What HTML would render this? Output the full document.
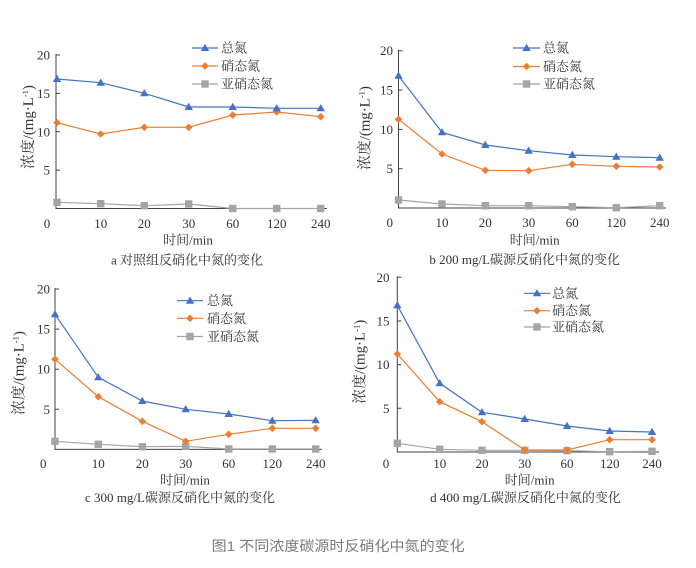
<!DOCTYPE html>
<html><head><meta charset="utf-8">
<style>
html,body{margin:0;padding:0;background:#fff;}
svg{display:block;}
text{font-family:"Liberation Serif","Noto Serif CJK SC",serif;fill:#333;font-size:13px;}
.yt{font-size:14.5px;}
.cap{font-family:"Liberation Sans","Noto Sans CJK SC",sans-serif;fill:#7a7a7a;font-size:14px;}
</style></head><body>
<svg width="696" height="568" viewBox="0 0 696 568" xmlns="http://www.w3.org/2000/svg">
<defs>
<path id="tri" d="M0,-4.2 L4.2,3 L-4.2,3Z" fill="#4472C4"/>
<path id="dia" d="M0,-3.8 L3.8,0 L0,3.8 L-3.8,0Z" fill="#ED7D31"/>
<rect id="sq" x="-3.7" y="-3.7" width="7.4" height="7.4" fill="#A5A5A5"/>
</defs>

<!-- ================= Chart a ================= -->
<g>
<g stroke="#404040" stroke-width="1" fill="none">
<path d="M56,54 V208.5 H327"/>
<path d="M56,55 h4 M56,93.4 h4 M56,131.8 h4 M56,170.1 h4"/>
</g>
<g text-anchor="end">
<text x="50" y="59.5">20</text><text x="50" y="97.9">15</text><text x="50" y="136.3">10</text><text x="50" y="174.6">5</text>
</g>
<g text-anchor="middle">
<text x="47" y="227.8">0</text><text x="100.7" y="227.8">10</text><text x="144.3" y="227.8">20</text><text x="188.7" y="227.8">30</text><text x="232.7" y="227.8">60</text><text x="276.7" y="227.8">120</text><text x="320.7" y="227.8">240</text>
<text x="188" y="244.5">时间/min</text>
<text x="187" y="264.5">a 对照组反硝化中氮的变化</text>
<text class="yt" x="28" y="132" transform="rotate(-90 28 127)" textLength="84" lengthAdjust="spacingAndGlyphs">浓度/(mg·L<tspan font-size="8.5" dy="-5">-1</tspan><tspan dy="5">)</tspan></text>
</g>
<polyline fill="none" stroke="#A5A5A5" stroke-width="1.2" points="57,202.3 100.7,203.7 144.3,205.7 188.7,204 232.7,208.5 276.7,208.5 320.7,208.5"/>
<polyline fill="none" stroke="#ED7D31" stroke-width="1.2" points="57,122.7 100.7,134 144.3,127.3 188.7,127.3 232.7,115 276.7,112 320.7,116.7"/>
<polyline fill="none" stroke="#4472C4" stroke-width="1.2" points="57,79 100.7,82.7 144.3,93.3 188.7,107 232.7,107 276.7,108.3 320.7,108.3"/>
<use href="#sq" x="57" y="202.3"/><use href="#sq" x="100.7" y="203.7"/><use href="#sq" x="144.3" y="205.7"/><use href="#sq" x="188.7" y="204"/><use href="#sq" x="232.7" y="208.5"/><use href="#sq" x="276.7" y="208.5"/><use href="#sq" x="320.7" y="208.5"/>
<use href="#dia" x="57" y="122.7"/><use href="#dia" x="100.7" y="134"/><use href="#dia" x="144.3" y="127.3"/><use href="#dia" x="188.7" y="127.3"/><use href="#dia" x="232.7" y="115"/><use href="#dia" x="276.7" y="112"/><use href="#dia" x="320.7" y="116.7"/>
<use href="#tri" x="57" y="79"/><use href="#tri" x="100.7" y="82.7"/><use href="#tri" x="144.3" y="93.3"/><use href="#tri" x="188.7" y="107"/><use href="#tri" x="232.7" y="107"/><use href="#tri" x="276.7" y="108.3"/><use href="#tri" x="320.7" y="108.3"/>
<line x1="192" y1="48" x2="218" y2="48" stroke="#4472C4" stroke-width="1.2"/><use href="#tri" x="205" y="48"/>
<line x1="192" y1="66" x2="218" y2="66" stroke="#ED7D31" stroke-width="1.2"/><use href="#dia" x="205" y="66"/>
<line x1="192" y1="84" x2="218" y2="84" stroke="#A5A5A5" stroke-width="1.2"/><use href="#sq" x="205" y="84"/>
<text x="221" y="52.5">总氮</text><text x="221" y="70.5">硝态氮</text><text x="221" y="88.5">亚硝态氮</text>
</g>

<!-- ================= Chart b ================= -->
<g>
<g stroke="#404040" stroke-width="1" fill="none">
<path d="M398.5,49.7 V208 H666"/>
<path d="M398.5,50.7 h4 M398.5,90 h4 M398.5,129.4 h4 M398.5,168.7 h4"/>
</g>
<g text-anchor="end">
<text x="393" y="55.2">20</text><text x="393" y="94.5">15</text><text x="393" y="133.9">10</text><text x="393" y="173.2">5</text>
</g>
<g text-anchor="middle">
<text x="389.7" y="227.2">0</text><text x="442" y="227.2">10</text><text x="485.3" y="227.2">20</text><text x="528.7" y="227.2">30</text><text x="572.3" y="227.2">60</text><text x="616.3" y="227.2">120</text><text x="659.7" y="227.2">240</text>
<text x="534.7" y="244.5">时间/min</text>
<text x="524.7" y="264">b 200 mg/L碳源反硝化中氮的变化</text>
<text class="yt" x="364.7" y="133" transform="rotate(-90 364.7 128)" textLength="84" lengthAdjust="spacingAndGlyphs">浓度/(mg·L<tspan font-size="8.5" dy="-5">-1</tspan><tspan dy="5">)</tspan></text>
</g>
<polyline fill="none" stroke="#A5A5A5" stroke-width="1.2" points="398.5,200 442,204 485.3,205.7 528.7,205.7 572.3,206.7 616.3,207.7 659.7,205.7"/>
<polyline fill="none" stroke="#ED7D31" stroke-width="1.2" points="398.5,119.3 442,154 485.3,170.3 528.7,170.7 572.3,164.3 616.3,166.3 659.7,167"/>
<polyline fill="none" stroke="#4472C4" stroke-width="1.2" points="398.5,75.7 442,132.3 485.3,145 528.7,150.7 572.3,155 616.3,156.7 659.7,157.7"/>
<use href="#sq" x="398.5" y="200"/><use href="#sq" x="442" y="204"/><use href="#sq" x="485.3" y="205.7"/><use href="#sq" x="528.7" y="205.7"/><use href="#sq" x="572.3" y="206.7"/><use href="#sq" x="616.3" y="207.7"/><use href="#sq" x="659.7" y="205.7"/>
<use href="#dia" x="398.5" y="119.3"/><use href="#dia" x="442" y="154"/><use href="#dia" x="485.3" y="170.3"/><use href="#dia" x="528.7" y="170.7"/><use href="#dia" x="572.3" y="164.3"/><use href="#dia" x="616.3" y="166.3"/><use href="#dia" x="659.7" y="167"/>
<use href="#tri" x="398.5" y="75.7"/><use href="#tri" x="442" y="132.3"/><use href="#tri" x="485.3" y="145"/><use href="#tri" x="528.7" y="150.7"/><use href="#tri" x="572.3" y="155"/><use href="#tri" x="616.3" y="156.7"/><use href="#tri" x="659.7" y="157.7"/>
<line x1="513" y1="48" x2="540" y2="48" stroke="#4472C4" stroke-width="1.2"/><use href="#tri" x="526.5" y="48"/>
<line x1="513" y1="66.5" x2="540" y2="66.5" stroke="#ED7D31" stroke-width="1.2"/><use href="#dia" x="526.5" y="66.5"/>
<line x1="513" y1="84" x2="540" y2="84" stroke="#A5A5A5" stroke-width="1.2"/><use href="#sq" x="526.5" y="84"/>
<text x="543" y="52.5">总氮</text><text x="543" y="71">硝态氮</text><text x="543" y="88.5">亚硝态氮</text>
</g>

<!-- ================= Chart c ================= -->
<g>
<g stroke="#404040" stroke-width="1" fill="none">
<path d="M55,288 V449.4 H322"/>
<path d="M55,289 h4 M55,329.1 h4 M55,369.2 h4 M55,409.3 h4"/>
</g>
<g text-anchor="end">
<text x="50" y="293.5">20</text><text x="50" y="333.6">15</text><text x="50" y="373.7">10</text><text x="50" y="413.8">5</text>
</g>
<g text-anchor="middle">
<text x="43.3" y="467.8">0</text><text x="98.3" y="467.8">10</text><text x="142.3" y="467.8">20</text><text x="185.7" y="467.8">30</text><text x="228.7" y="467.8">60</text><text x="272.3" y="467.8">120</text><text x="315.7" y="467.8">240</text>
<text x="185" y="484.5">时间/min</text>
<text x="180" y="502">c 300 mg/L碳源反硝化中氮的变化</text>
<text class="yt" x="18.3" y="378" transform="rotate(-90 18.3 373)" textLength="84" lengthAdjust="spacingAndGlyphs">浓度/(mg·L<tspan font-size="8.5" dy="-5">-1</tspan><tspan dy="5">)</tspan></text>
</g>
<polyline fill="none" stroke="#A5A5A5" stroke-width="1.2" points="55,441.3 98.3,444.3 142.3,446.7 185.7,446.3 228.7,449 272.3,449 315.7,449"/>
<polyline fill="none" stroke="#ED7D31" stroke-width="1.2" points="55,359.3 98.3,396.7 142.3,421.3 185.7,441.3 228.7,434.3 272.3,428.3 315.7,428.3"/>
<polyline fill="none" stroke="#4472C4" stroke-width="1.2" points="55,314.3 98.3,377.3 142.3,401 185.7,409.3 228.7,414 272.3,420.7 315.7,420.3"/>
<use href="#sq" x="55" y="441.3"/><use href="#sq" x="98.3" y="444.3"/><use href="#sq" x="142.3" y="446.7"/><use href="#sq" x="185.7" y="446.3"/><use href="#sq" x="228.7" y="449"/><use href="#sq" x="272.3" y="449"/><use href="#sq" x="315.7" y="449"/>
<use href="#dia" x="55" y="359.3"/><use href="#dia" x="98.3" y="396.7"/><use href="#dia" x="142.3" y="421.3"/><use href="#dia" x="185.7" y="441.3"/><use href="#dia" x="228.7" y="434.3"/><use href="#dia" x="272.3" y="428.3"/><use href="#dia" x="315.7" y="428.3"/>
<use href="#tri" x="55" y="314.3"/><use href="#tri" x="98.3" y="377.3"/><use href="#tri" x="142.3" y="401"/><use href="#tri" x="185.7" y="409.3"/><use href="#tri" x="228.7" y="414"/><use href="#tri" x="272.3" y="420.7"/><use href="#tri" x="315.7" y="420.3"/>
<line x1="177" y1="300.7" x2="203" y2="300.7" stroke="#4472C4" stroke-width="1.2"/><use href="#tri" x="190" y="300.7"/>
<line x1="177" y1="318.3" x2="203" y2="318.3" stroke="#ED7D31" stroke-width="1.2"/><use href="#dia" x="190" y="318.3"/>
<line x1="177" y1="336.5" x2="203" y2="336.5" stroke="#A5A5A5" stroke-width="1.2"/><use href="#sq" x="190" y="336.5"/>
<text x="207" y="305.2">总氮</text><text x="207" y="322.8">硝态氮</text><text x="207" y="341">亚硝态氮</text>
</g>

<!-- ================= Chart d ================= -->
<g>
<g stroke="#404040" stroke-width="1" fill="none">
<path d="M397.3,276.3 V452 H659"/>
<path d="M397.3,277.3 h4 M397.3,321 h4 M397.3,364.7 h4 M397.3,408.3 h4"/>
</g>
<g text-anchor="end">
<text x="389.5" y="281.8">20</text><text x="389.5" y="325.5">15</text><text x="389.5" y="369.2">10</text><text x="389.5" y="412.8">5</text>
</g>
<g text-anchor="middle">
<text x="386" y="467.8">0</text><text x="439.7" y="467.8">10</text><text x="482" y="467.8">20</text><text x="524.7" y="467.8">30</text><text x="567" y="467.8">60</text><text x="609.7" y="467.8">120</text><text x="652" y="467.8">240</text>
<text x="529.7" y="484.5">时间/min</text>
<text x="525.5" y="502">d 400 mg/L碳源反硝化中氮的变化</text>
<text class="yt" x="359.7" y="366.7" transform="rotate(-90 359.7 361.7)" textLength="84" lengthAdjust="spacingAndGlyphs">浓度/(mg·L<tspan font-size="8.5" dy="-5">-1</tspan><tspan dy="5">)</tspan></text>
</g>
<polyline fill="none" stroke="#A5A5A5" stroke-width="1.2" points="397.3,443.3 439.7,449.3 482,450.3 524.7,450.3 567,450.7 609.7,451.7 652,451.3"/>
<polyline fill="none" stroke="#ED7D31" stroke-width="1.2" points="397.3,354 439.7,401.7 482,421.7 524.7,450 567,450 609.7,439.7 652,439.7"/>
<polyline fill="none" stroke="#4472C4" stroke-width="1.2" points="397.3,305.3 439.7,383.3 482,412.3 524.7,419 567,426 609.7,431 652,432"/>
<use href="#sq" x="397.3" y="443.3"/><use href="#sq" x="439.7" y="449.3"/><use href="#sq" x="482" y="450.3"/><use href="#sq" x="524.7" y="450.3"/><use href="#sq" x="567" y="450.7"/><use href="#sq" x="609.7" y="451.7"/><use href="#sq" x="652" y="451.3"/>
<use href="#dia" x="397.3" y="354"/><use href="#dia" x="439.7" y="401.7"/><use href="#dia" x="482" y="421.7"/><use href="#dia" x="524.7" y="450"/><use href="#dia" x="567" y="450"/><use href="#dia" x="609.7" y="439.7"/><use href="#dia" x="652" y="439.7"/>
<use href="#tri" x="397.3" y="305.3"/><use href="#tri" x="439.7" y="383.3"/><use href="#tri" x="482" y="412.3"/><use href="#tri" x="524.7" y="419"/><use href="#tri" x="567" y="426"/><use href="#tri" x="609.7" y="431"/><use href="#tri" x="652" y="432"/>
<line x1="524" y1="293.3" x2="550" y2="293.3" stroke="#4472C4" stroke-width="1.2"/><use href="#tri" x="537" y="293.3"/>
<line x1="524" y1="310.7" x2="550" y2="310.7" stroke="#ED7D31" stroke-width="1.2"/><use href="#dia" x="537" y="310.7"/>
<line x1="524" y1="327" x2="550" y2="327" stroke="#A5A5A5" stroke-width="1.2"/><use href="#sq" x="537" y="327"/>
<text x="552" y="297.8">总氮</text><text x="552" y="315.2">硝态氮</text><text x="552" y="331.5">亚硝态氮</text>
</g>

<!-- figure caption -->
<text class="cap" x="211.7" y="551" textLength="253" lengthAdjust="spacingAndGlyphs">图1 不同浓度碳源时反硝化中氮的变化</text>
</svg>
</body></html>
